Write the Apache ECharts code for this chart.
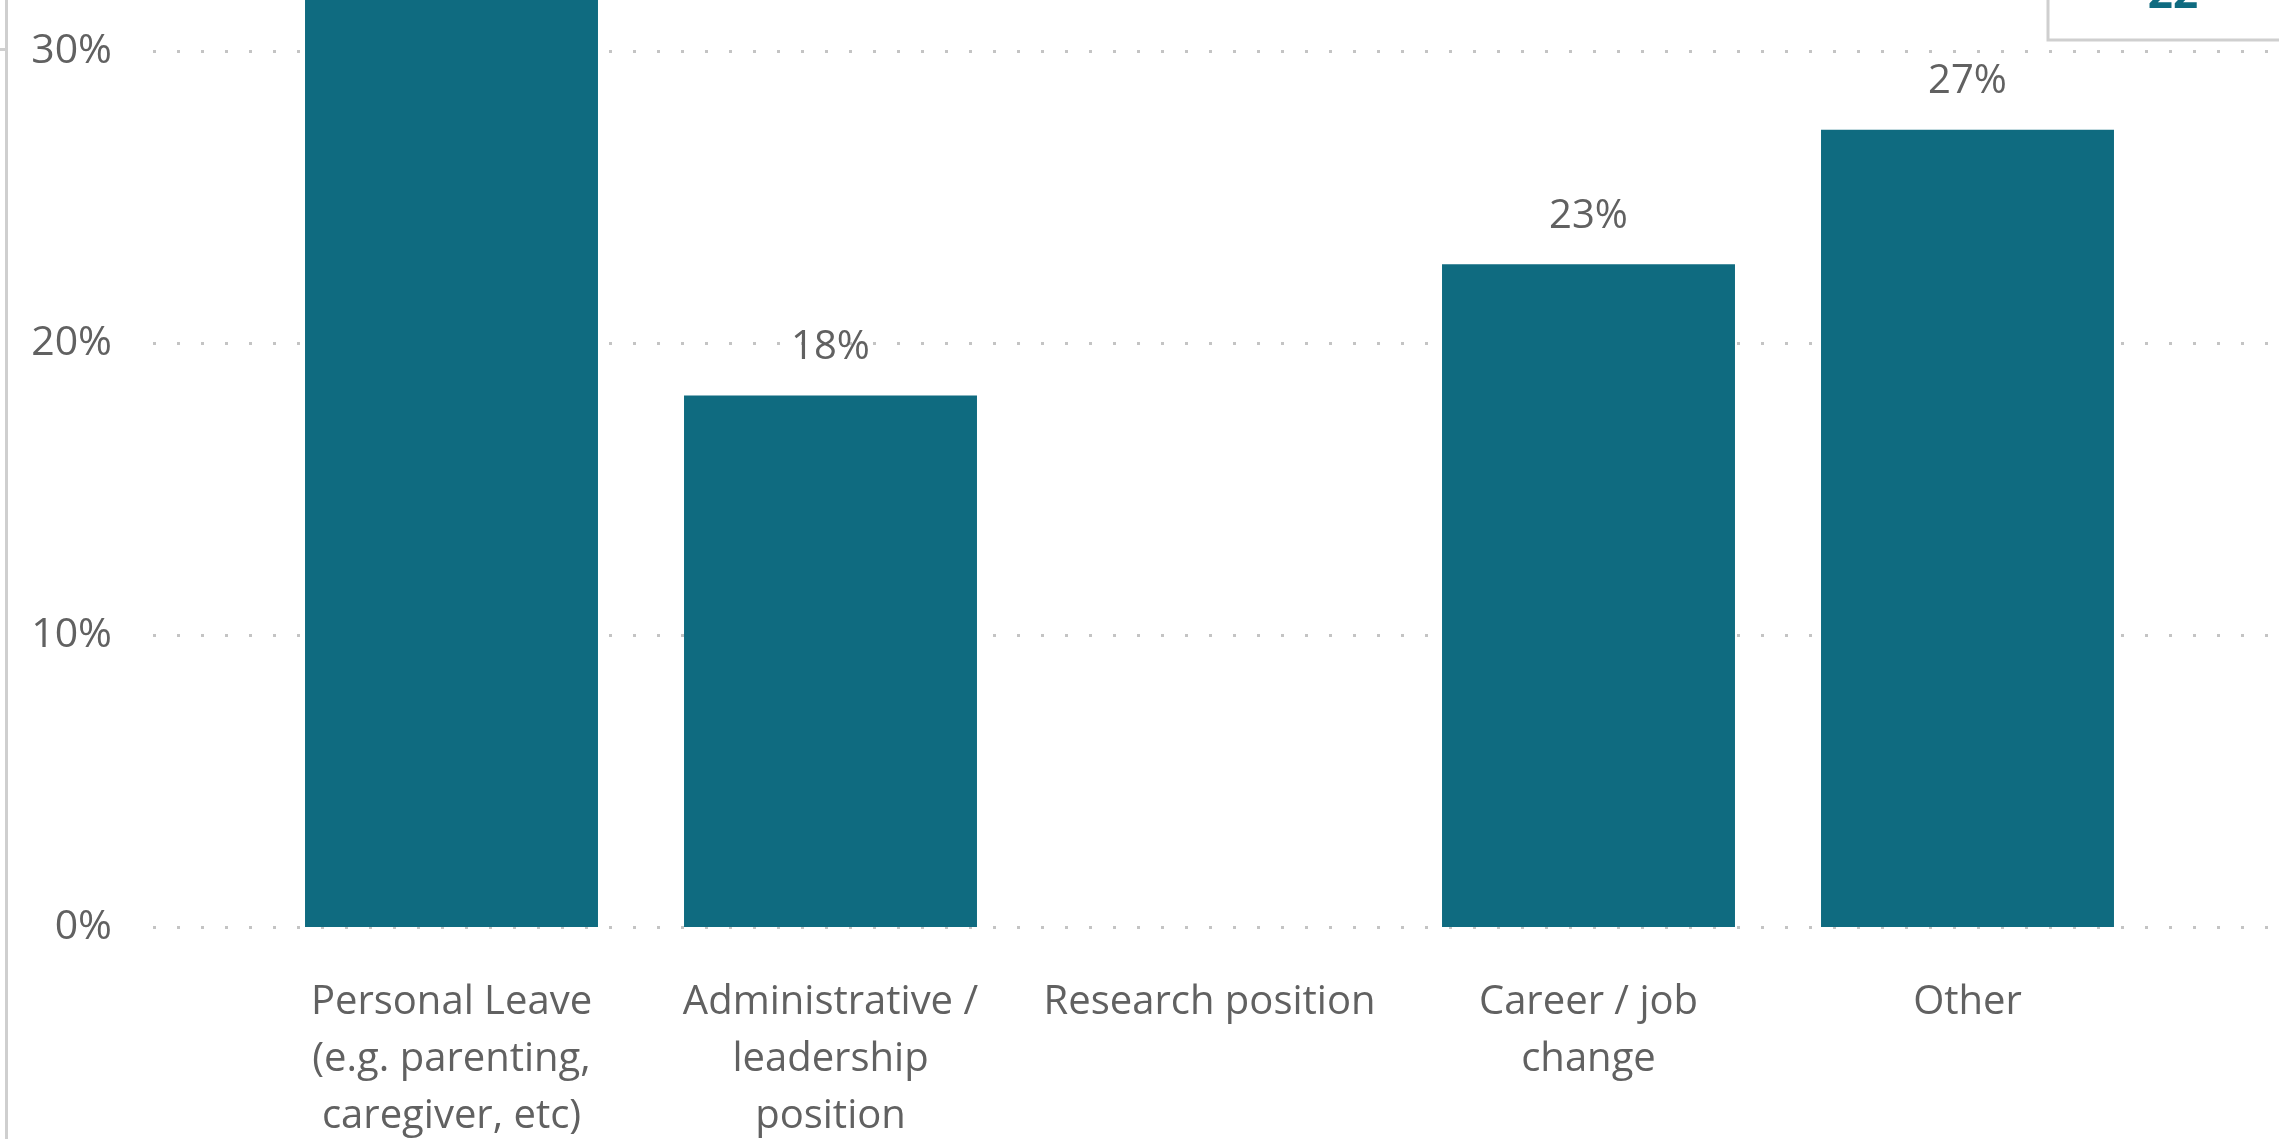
<!DOCTYPE html>
<html>
<head>
<meta charset="utf-8">
<script src="https://cdn.jsdelivr.net/npm/echarts@6/dist/echarts.min.js"></script>
<style>
html,body{margin:0;padding:0;background:#fff;}
#chart{width:2279px;height:1139px;}
</style>
</head>
<body>
<div id="chart"></div>
<script>
// Data (share of respondents, n = 22)
var categories = [
  "Personal Leave\n(e.g. parenting,\ncaregiver, etc)",
  "Administrative /\nleadership\nposition",
  "Research position",
  "Career / job\nchange",
  "Other"
];
var values = [31.8, 18.2, null, 22.7, 27.3];
var yTicks = [0, 10, 20, 30, 40];
var totalCount = "22";

var FONT = "'Segoe UI', 'Open Sans', 'Noto Sans', sans-serif";
var TEXT = '#616161';
var BAR = '#0F6B80';

var chart = echarts.init(document.getElementById('chart'), null, {renderer: 'canvas'});
var gridTop = -241, gridBottom = 212;

chart.setOption({
  animation: false,
  backgroundColor: '#fff',
  grid: [
    {left: 153, right: 0, top: gridTop, bottom: gridBottom, outerBoundsMode: 'none', containLabel: false},
    {left: 262, right: 122, top: gridTop, bottom: gridBottom, outerBoundsMode: 'none', containLabel: false}
  ],
  xAxis: [
    {gridIndex: 0, type: 'value', show: false, min: 0, max: 1},
    {
      gridIndex: 1, type: 'category', data: categories,
      axisLine: {show: false}, axisTick: {show: false},
      axisLabel: {
        interval: 0, margin: 47, color: TEXT, fontFamily: FONT,
        fontSize: 40, lineHeight: 57, align: 'center'
      }
    }
  ],
  yAxis: [
    {
      gridIndex: 0, type: 'value', min: yTicks[0], max: yTicks[yTicks.length - 1], interval: 10,
      axisLine: {show: false}, axisTick: {show: false},
      axisLabel: {
        margin: 41, color: TEXT, fontFamily: FONT, fontSize: 41,
        formatter: function (v) { return v + '%'; }
      },
      splitLine: {show: true, lineStyle: {color: '#c4c4c4', width: 3, type: [3, 21]}}
    },
    {
      gridIndex: 1, type: 'value', min: yTicks[0], max: yTicks[yTicks.length - 1], interval: 10,
      show: false, splitLine: {show: false}
    }
  ],
  series: [{
    type: 'bar',
    xAxisIndex: 1, yAxisIndex: 1,
    data: values,
    barCategoryGap: '22.7%',
    itemStyle: {color: BAR},
    label: {
      show: true, position: 'top', distance: 28,
      color: TEXT, fontFamily: FONT, fontSize: 40,
      formatter: function (p) { return Math.round(p.value) + '%'; }
    }
  }],
  graphic: [
    {type: 'rect', shape: {x: 5, y: 0, width: 3, height: 1139}, style: {fill: '#cfcfcf'}, silent: true},
    {type: 'rect', shape: {x: 0, y: 48, width: 6, height: 3}, style: {fill: '#cfcfcf'}, silent: true},
    {type: 'rect', shape: {x: 2048, y: -200, width: 400, height: 240},
      style: {fill: 'rgba(0,0,0,0)', stroke: '#cfcfcf', lineWidth: 3}, silent: true},
    {type: 'text', x: 2173, y: -5,
      style: {text: totalCount, fill: BAR, font: "bold 44px 'Segoe UI','Open Sans',sans-serif",
        align: 'center', verticalAlign: 'middle'}, silent: true}
  ]
});
</script>
</body>
</html>
